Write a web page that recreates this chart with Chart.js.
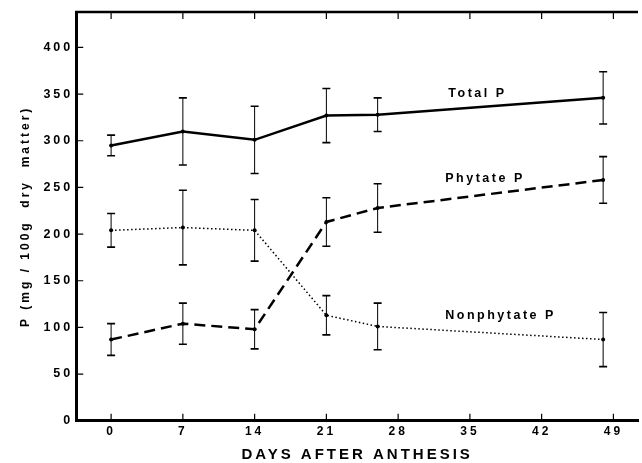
<!DOCTYPE html>
<html>
<head>
<meta charset="utf-8">
<script src="https://cdn.jsdelivr.net/npm/chart.js@4.4.1/dist/chart.umd.min.js"></script>
<style>
  html, body { margin: 0; padding: 0; background: #fff; }
</style>
</head>
<body>
<canvas id="chart" width="642" height="463"></canvas>
<script>
// values (mg P / 100 g dry matter, mean and +/- bar)
const days = [0, 7, 14, 21, 26, 48];
const totalP = [295, 310, 301, 327, 328, 346];
const totalErr = [11, 36, 36, 29, 18, 28];
const phytateP = [87, 104, 98, 213, 228, 258];
const phytateErr = [17, 22, 21, 26, 26, 25];
const nonphytateP = [204, 207, 204, 113, 101, 87];
const nonphytateErr = [18, 40, 33, 21, 25, 29];
const xTickValues = [0, 7, 14, 21, 28, 35, 42, 49];
const yTickValues = [0, 50, 100, 150, 200, 250, 300, 350, 400];
const seriesNames = ["Total P", "Phytate P", "Nonphytate P"];

// where the in-plot series names sit, in data units
const nameAnchors = [
  { x: 32.9, y: 351 },
  { x: 32.6, y: 259 },
  { x: 32.6, y: 113 }
];

const FONT = "'Liberation Sans', Arial, sans-serif";
const INK = "#000";

function toPoints(ys) {
  return days.map((d, i) => ({ x: d, y: ys[i] }));
}

// wide letter spacing like the figure lettering
const spacingPlugin = {
  id: "spacing",
  beforeLayout(chart) { chart.ctx.letterSpacing = "3px"; },
  beforeDraw(chart) { chart.ctx.letterSpacing = "3px"; }
};

const errorBarPlugin = {
  id: "errorBars",
  afterDatasetsDraw(chart) {
    const { ctx } = chart;
    const y = chart.scales.y;
    chart.data.datasets.forEach((ds, di) => {
      const meta = chart.getDatasetMeta(di);
      ctx.save();
      ctx.strokeStyle = INK;
      meta.data.forEach((pt, i) => {
        const v = ds.data[i].y;
        const e = ds.errors[i];
        const top = y.getPixelForValue(v + e);
        const bot = y.getPixelForValue(v - e);
        ctx.lineWidth = 1;
        ctx.setLineDash([]);
        ctx.beginPath();
        ctx.moveTo(pt.x, top);
        ctx.lineTo(pt.x, bot);
        ctx.stroke();
        ctx.lineWidth = 1.6;
        ctx.beginPath();
        ctx.moveTo(pt.x - 4, top);
        ctx.lineTo(pt.x + 4, top);
        ctx.moveTo(pt.x - 4, bot);
        ctx.lineTo(pt.x + 4, bot);
        ctx.stroke();
      });
      ctx.restore();
    });
  }
};

// inward ticks, top frame line and the series names
const framePlugin = {
  id: "frame",
  afterDraw(chart) {
    const { ctx, chartArea: a } = chart;
    const xs = chart.scales.x, ys = chart.scales.y;
    ctx.save();
    ctx.strokeStyle = INK;
    ctx.lineWidth = 2.5;
    ctx.beginPath();
    ctx.moveTo(a.left - 1, a.top);
    ctx.lineTo(a.right, a.top);
    ctx.stroke();

    ctx.lineWidth = 1.2;
    ctx.beginPath();
    xs.ticks.forEach(t => {
      const px = xs.getPixelForValue(t.value);
      ctx.moveTo(px, a.bottom);
      ctx.lineTo(px, a.bottom - 7);
      ctx.moveTo(px, a.top);
      ctx.lineTo(px, a.top + 7);
    });
    ys.ticks.forEach(t => {
      const py = ys.getPixelForValue(t.value);
      ctx.moveTo(a.left, py);
      ctx.lineTo(a.left + 7, py);
    });
    ctx.stroke();

    ctx.fillStyle = INK;
    ctx.font = "bold 12.5px " + FONT;
    ctx.letterSpacing = "2.5px";
    ctx.textAlign = "left";
    ctx.textBaseline = "middle";
    seriesNames.forEach((name, i) => {
      ctx.fillText(name, xs.getPixelForValue(nameAnchors[i].x), ys.getPixelForValue(nameAnchors[i].y));
    });
    ctx.restore();
  }
};

const canvas = document.getElementById("chart");
new Chart(canvas.getContext("2d"), {
  type: "line",
  data: {
    datasets: [
      {
        label: seriesNames[0],
        data: toPoints(totalP),
        errors: totalErr,
        borderColor: INK,
        borderWidth: 2.5,
        pointRadius: 2,
        pointBackgroundColor: INK,
        pointBorderWidth: 0
      },
      {
        label: seriesNames[1],
        data: toPoints(phytateP),
        errors: phytateErr,
        borderColor: INK,
        borderWidth: 2.5,
        borderDash: [11, 6],
        pointRadius: 2,
        pointBackgroundColor: INK,
        pointBorderWidth: 0
      },
      {
        label: seriesNames[2],
        data: toPoints(nonphytateP),
        errors: nonphytateErr,
        borderColor: INK,
        borderWidth: 1.5,
        borderDash: [1.5, 2.5],
        pointRadius: 2,
        pointBackgroundColor: INK,
        pointBorderWidth: 0
      }
    ]
  },
  options: {
    responsive: false,
    animation: false,
    devicePixelRatio: 1,
    layout: { padding: { top: 12, left: 10, right: 0, bottom: 0 } },
    plugins: {
      legend: { display: false },
      tooltip: { enabled: false }
    },
    scales: {
      x: {
        type: "linear",
        min: -3.4,
        max: 51.4,
        afterBuildTicks: (s) => { s.ticks = xTickValues.map(v => ({ value: v })); },
        grid: { display: true, drawOnChartArea: false, drawTicks: false },
        border: { display: true, color: INK, width: 3 },
        ticks: {
          color: INK,
          padding: 3.8,
          maxRotation: 0,
          autoSkip: false,
          font: { family: FONT, size: 12, weight: "bold" }
        },
        title: {
          display: true,
          text: "DAYS AFTER ANTHESIS",
          color: INK,
          padding: { top: 4.8, bottom: 0.5 },
          font: { family: FONT, size: 15, weight: "bold", lineHeight: 1 }
        }
      },
      y: {
        min: 0,
        max: 438,
        afterBuildTicks: (s) => { s.ticks = yTickValues.map(v => ({ value: v })); },
        grid: { display: true, drawOnChartArea: false, drawTicks: false },
        border: { display: true, color: INK, width: 3 },
        ticks: {
          color: INK,
          padding: 3,
          autoSkip: false,
          font: { family: FONT, size: 12.5, weight: "bold" }
        },
        title: {
          display: true,
          text: "P (mg / 100g  dry  matter)",
          color: INK,
          padding: { top: 8, bottom: 8 },
          font: { family: FONT, size: 12, weight: "bold" }
        }
      }
    }
  },
  plugins: [spacingPlugin, errorBarPlugin, framePlugin]
});
</script>
</body>
</html>
